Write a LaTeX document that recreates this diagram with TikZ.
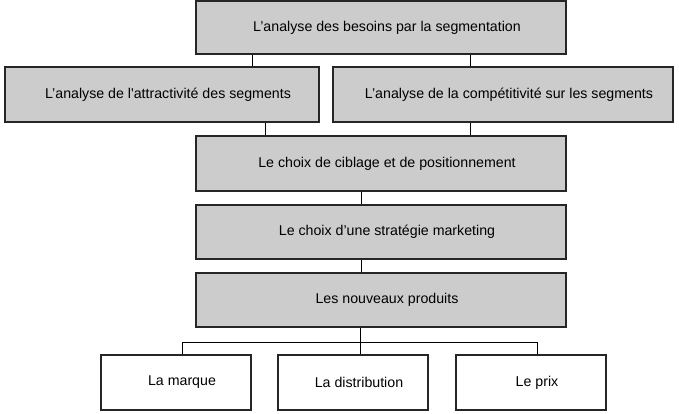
\documentclass[tikz,border=0pt]{standalone}
\usepackage{fontspec}
\setmainfont{Liberation Sans}
\begin{document}
\begin{tikzpicture}[x=1pt,y=-1pt,
  graybox/.style={draw=black!85, line width=1.4pt, fill=black!20, inner sep=0pt,
    font=\fontsize{14.2}{17}\selectfont, execute at begin node={\hspace*{12pt}}},
  whitebox/.style={graybox, fill=white},
  link/.style={draw=black, line width=0.9pt}]
\useasboundingbox (0,0) rectangle (679,414);
\node[graybox, minimum width=370pt, minimum height=53pt] (top) at (381,27.5) {L’analyse des besoins par la segmentation};
\node[graybox, minimum width=314pt, minimum height=55pt] (left) at (162,94.5) {L’analyse de l\textquotesingle attractivité des segments};
\node[graybox, minimum width=340pt, minimum height=55pt] (right) at (503,94.5) {L’analyse de la compétitivité sur les segments};
\node[graybox, minimum width=370pt, minimum height=55pt] (cib) at (381,163.5) {Le choix de ciblage et de positionnement};
\node[graybox, minimum width=370pt, minimum height=54pt] (strat) at (381,232) {Le choix d’une stratégie marketing};
\node[graybox, minimum width=370pt, minimum height=54pt] (prod) at (381,300) {Les nouveaux produits};
\node[whitebox, minimum width=150pt, minimum height=55pt] (marq) at (176,382.5) {La marque};
\node[whitebox, minimum width=150pt, minimum height=55pt] (dist) at (353,382.5) {La distribution};
\node[whitebox, minimum width=150pt, minimum height=55pt] (prix) at (531,382.5) {Le prix};
\coordinate (xa) at (252,0);
\coordinate (xb) at (470,0);
\coordinate (xc) at (265,0);
\coordinate (xm) at (361,0);
\coordinate (j) at (360,342);
\coordinate (j1) at (182,342);
\coordinate (j3) at (537,342);
\draw[link] (top.south -| xa) -- (left.north -| xa);
\draw[link] (top.south -| xb) -- (right.north -| xb);
\draw[link] (left.south -| xc) -- (cib.north -| xc);
\draw[link] (right.south -| xb) -- (cib.north -| xb);
\draw[link] (cib.south -| xm) -- (strat.north -| xm);
\draw[link] (strat.south -| xm) -- (prod.north -| xm);
\draw[link] (prod.south -| j) -- (j);
\draw[link] (j1) -- (j3);
\draw[link] (j1) -- (marq.north -| j1);
\draw[link] (j) -- (dist.north -| j);
\draw[link] (j3) -- (prix.north -| j3);
\end{tikzpicture}
\end{document}
